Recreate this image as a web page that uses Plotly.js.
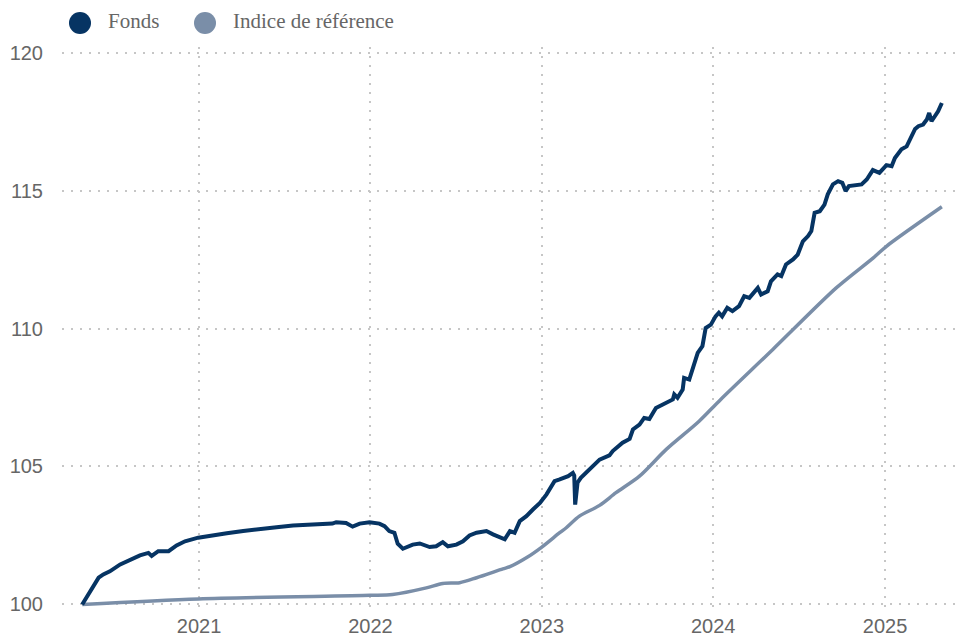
<!DOCTYPE html>
<html>
<head>
<meta charset="utf-8">
<script src="https://cdn.plot.ly/plotly-3.0.1.min.js"></script>
<style>html,body{margin:0;padding:0;background:#fff;}#chart{width:955px;height:636px;}</style>
</head>
<body>
<div id="chart"></div>
<script>
const seriesNames = ['Fonds', 'Indice de référence'];

const fundDates = [
'2020-04-27','2020-05-10','2020-05-21','2020-06-01','2020-06-11','2020-06-25','2020-07-17','2020-08-07',
'2020-08-28','2020-09-15','2020-09-22','2020-10-06','2020-10-28','2020-11-14','2020-12-02','2020-12-30',
'2021-01-24','2021-02-15','2021-03-01','2021-04-05','2021-05-10','2021-06-15','2021-07-20','2021-08-25',
'2021-09-29','2021-10-12','2021-10-20','2021-11-10','2021-11-24','2021-12-09','2021-12-30','2022-01-20',
'2022-01-31','2022-02-10','2022-02-21','2022-02-28','2022-03-11','2022-04-01','2022-04-16','2022-05-07',
'2022-05-21','2022-06-04','2022-06-15','2022-07-03','2022-07-17','2022-07-31','2022-08-15','2022-09-05',
'2022-09-19','2022-10-03','2022-10-14','2022-10-25','2022-11-04','2022-11-15','2022-11-29','2022-12-13',
'2022-12-28','2023-01-11','2023-01-28','2023-02-08','2023-02-19','2023-02-26','2023-03-08','2023-03-11',
'2023-03-13','2023-03-18','2023-03-25','2023-04-05','2023-04-19','2023-05-04','2023-05-25','2023-06-01',
'2023-06-22','2023-07-07','2023-07-14','2023-07-28','2023-08-07','2023-08-18','2023-09-01','2023-09-23',
'2023-10-07','2023-10-10','2023-10-17','2023-10-28','2023-10-31','2023-11-11','2023-11-18','2023-11-29',
'2023-12-09','2023-12-16','2023-12-27','2024-01-06','2024-01-13','2024-01-20','2024-01-31','2024-02-11',
'2024-02-25','2024-03-07','2024-03-18','2024-03-29','2024-04-05','2024-04-12','2024-04-26','2024-05-03',
'2024-05-17','2024-05-25','2024-06-04','2024-06-19','2024-06-29','2024-07-10','2024-07-21','2024-07-28',
'2024-08-04','2024-08-15','2024-08-25','2024-09-01','2024-09-12','2024-09-23','2024-10-02','2024-10-09',
'2024-10-16','2024-11-12','2024-11-23','2024-12-06','2024-12-20','2025-01-04','2025-01-15','2025-01-22',
'2025-02-05','2025-02-16','2025-02-27','2025-03-06','2025-03-13','2025-03-23','2025-03-31','2025-04-05',
'2025-04-10','2025-04-17','2025-04-24','2025-05-02'
];
const fundValues = [
100.00,100.36,100.60,100.97,101.09,101.20,101.45,101.63,
101.78,101.87,101.76,101.93,101.93,102.14,102.29,102.42,
102.50,102.54,102.58,102.66,102.74,102.80,102.86,102.90,
102.95,102.93,102.98,102.95,102.82,102.93,102.98,102.93,
102.84,102.66,102.60,102.20,102.02,102.17,102.21,102.08,
102.11,102.26,102.11,102.17,102.29,102.50,102.60,102.66,
102.54,102.45,102.36,102.66,102.60,103.02,103.20,103.44,
103.68,103.99,104.47,104.53,104.59,104.65,104.77,104.67,
103.62,104.41,104.59,104.77,105.01,105.25,105.40,105.56,
105.86,106.00,106.34,106.52,106.76,106.72,107.12,107.30,
107.43,107.61,107.49,107.79,108.21,108.15,108.51,109.12,
109.36,110.02,110.14,110.44,110.57,110.44,110.75,110.63,
110.81,111.17,111.11,111.35,111.47,111.23,111.35,111.71,
111.96,111.90,112.32,112.50,112.68,113.16,113.35,113.53,
114.19,114.25,114.49,114.86,115.22,115.34,115.28,114.98,
115.16,115.22,115.40,115.74,115.64,115.92,115.88,116.18,
116.49,116.60,116.97,117.23,117.33,117.39,117.57,117.81,
117.51,117.69,117.87,118.17
];

const benchDates = [
'2020-04-27','2020-12-31','2021-12-31','2022-02-17','2022-04-30','2022-06-04','2022-07-10','2022-08-15',
'2022-10-10','2022-10-25','2022-11-29','2023-01-01','2023-02-08','2023-02-22','2023-03-22','2023-05-04',
'2023-06-08','2023-07-28','2023-09-23','2023-12-02','2024-01-17','2024-05-07','2024-09-19','2024-12-07',
'2025-01-04','2025-05-02'
];
const benchValues = [
100.00,100.20,100.33,100.36,100.60,100.76,100.79,100.97,
101.29,101.37,101.69,102.08,102.60,102.78,103.20,103.59,
104.05,104.65,105.62,106.64,107.43,109.24,111.47,112.56,
112.98,114.41
];

const xTickVals = ['2021-01-01','2022-01-01','2023-01-01','2024-01-01','2025-01-01'];
const xTickText = ['2021','2022','2023','2024','2025'];
const yTickVals = [100,105,110,115,120];

const fundColor = '#063463';
const benchColor = '#7a8ea8';
const gridStyle = {gridcolor:'#c6c6c6', gridwidth:2, griddash:'2px,7px'};
const tickFont = {family:'Liberation Sans, Arial, sans-serif', size:20, color:'#666'};

const traces = [
  {x: benchDates, y: benchValues, name: seriesNames[1], type:'scatter', mode:'lines',
   line:{color: benchColor, width:3.5, shape:'spline', smoothing:0.8}, showlegend:false},
  {x: fundDates, y: fundValues, name: seriesNames[0], type:'scatter', mode:'lines',
   line:{color: fundColor, width:4}, showlegend:false}
];

// plot area geometry (pixels) for legend placement
const L = 62, R = 0, T = 47, B = 26, W = 955, H = 636;
const pw = W - L - R, ph = H - T - B;
const px = v => (v - L) / pw;
const py = v => (H - B - v) / ph;

const legendItems = [
  {cx: 80, label: seriesNames[0], color: fundColor, tx: 106},
  {cx: 205, label: seriesNames[1], color: benchColor, tx: 231}
];

const layout = {
  width: W, height: H,
  margin: {l: L, r: R, t: T, b: B, pad: 0},
  paper_bgcolor:'#fff', plot_bgcolor:'#fff',
  showlegend:false,
  xaxis: Object.assign({
    type:'date', range:['2020-03-15','2025-05-30'],
    tickvals: xTickVals, ticktext: xTickText,
    showline:false, zeroline:false, ticks:'', tickfont: tickFont,
    ticklabelstandoff: 2, fixedrange:true
  }, gridStyle),
  yaxis: Object.assign({
    range:[99.8, 120.2], tickvals: yTickVals,
    showline:false, zeroline:false, ticks:'', tickfont: tickFont,
    ticklabelstandoff: 18, fixedrange:true
  }, gridStyle),
  shapes: legendItems.map(it => ({
    type:'circle', xref:'paper', yref:'paper', xsizemode:'pixel', ysizemode:'pixel',
    xanchor: px(it.cx), yanchor: py(23), x0:-11, x1:11, y0:-11, y1:11,
    fillcolor: it.color, line:{width:0}
  })),
  annotations: legendItems.map(it => ({
    xref:'paper', yref:'paper', x: px(it.tx), y: py(21), xanchor:'left', yanchor:'middle',
    text: it.label, showarrow:false,
    font:{family:'Liberation Serif, Times New Roman, serif', size:21, color:'#666'}
  }))
};

Plotly.newPlot('chart', traces, layout, {displayModeBar:false, staticPlot:true});
</script>
</body>
</html>
